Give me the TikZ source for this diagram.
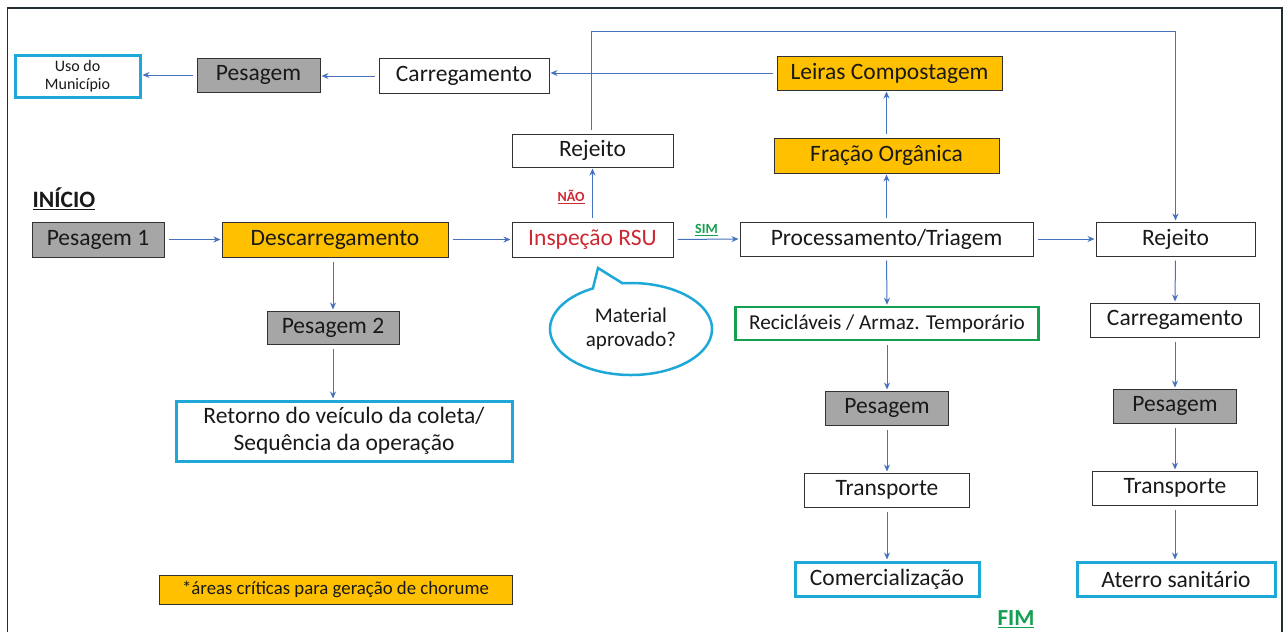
\documentclass[tikz,border=0pt]{standalone}
\usepackage{fontspec}
\setmainfont{Carlito}
\usetikzlibrary{arrows.meta,shapes.callouts}
\definecolor{txt}{RGB}{25,25,25}
\definecolor{bord}{RGB}{50,50,50}
\definecolor{grayfill}{RGB}{166,166,166}
\definecolor{orangefill}{RGB}{255,192,0}
\definecolor{cyanb}{RGB}{30,168,216}
\definecolor{greenb}{RGB}{20,160,80}
\definecolor{redt}{RGB}{205,40,50}
\definecolor{arrowc}{RGB}{70,114,190}
\definecolor{framec}{RGB}{35,45,50}
\tikzset{
  box/.style={draw=bord, line width=1pt, fill=white, inner sep=0pt, text=txt,
    font=\fontsize{23.5}{27}\selectfont, align=center},
  graybox/.style={box, fill=grayfill},
  orangebox/.style={box, fill=orangefill},
  cyanbox/.style={box, draw=cyanb, line width=3pt},
  greenbox/.style={box, draw=greenb, line width=2.5pt},
  arr/.style={draw=arrowc, line width=1pt, -{Stealth[length=7pt,width=6pt]},
    shorten <=4pt, shorten >=1pt},
  plainln/.style={draw=arrowc, line width=1pt, shorten <=4pt},
}
\begin{document}
\begin{tikzpicture}[x=1pt,y=-1pt]
\useasboundingbox (0,0) rectangle (1286,632);
\fill[white] (0,0) rectangle (1286,632);
\draw[framec, line width=1.5pt] (7.5,632) -- (7.5,8) -- (1282,8) -- (1282,632);

% top row
\node[cyanbox, minimum width=125, minimum height=42, font=\fontsize{16}{17.5}\selectfont] (uso) at (77.5,76) {Uso do\\Município};
\node[graybox, minimum width=123, minimum height=34] (pesT) at (258.5,75) {Pesagem};
\node[box, minimum width=170, minimum height=35] (carT) at (464,76) {Carregamento};
\node[orangebox, minimum width=225, minimum height=34] (leiras) at (889.5,73) {Leiras Compostagem};

\node[box, minimum width=161, minimum height=33] (rejU) at (592.5,150.5) {Rejeito};
\node[orangebox, minimum width=225, minimum height=35] (fracao) at (886.5,155.5) {Fração Orgânica};

% main row
\node[font=\bfseries\fontsize{23.5}{27}\selectfont, text=txt] (inicio) at (64,199) {\underline{INÍCIO}};
\node[graybox, minimum width=132, minimum height=35] (pes1) at (98,239.5) {Pesagem 1};
\node[orangebox, minimum width=226, minimum height=35] (desc) at (335,239.5) {Descarregamento};
\node[box, minimum width=161, minimum height=35, text=redt] (insp) at (592.5,239.5) {Inspeção RSU};
\node[box, minimum width=293, minimum height=34] (proc) at (886.5,239) {Processamento/Triagem};
\node[box, minimum width=159, minimum height=34] (rejR) at (1175.5,239) {Rejeito};

% lower left
\node[graybox, minimum width=132, minimum height=33] (pes2) at (333,327.5) {Pesagem 2};
\node[cyanbox, minimum width=336, minimum height=60] (ret) at (344,431) {Retorno do veículo da coleta/\\Sequência da operação};

% callout
\node[ellipse callout, draw=cyanb, line width=2.5pt, fill=white, minimum width=162, minimum height=92,
  inner sep=0pt, align=center, text=txt, font=\fontsize{21}{24}\selectfont,
  callout pointer arc=22,
  callout absolute pointer={(598,268)}] (call) at (631,329) {Material\\aprovado?};

% middle column
\node[greenbox, minimum width=303, minimum height=33, font=\fontsize{21.2}{24}\selectfont] (recic) at (887,323.5) {Recicláveis / Armaz. Temporário};
\node[graybox, minimum width=123, minimum height=34] (pesM) at (887,408) {Pesagem};
\node[box, minimum width=165, minimum height=34] (traM) at (887,490) {Transporte};
\node[cyanbox, minimum width=184, minimum height=34] (com) at (887,579) {Comercialização};

% right column
\node[box, minimum width=169, minimum height=34] (carR) at (1175,320) {Carregamento};
\node[graybox, minimum width=123, minimum height=34] (pesR) at (1175,406) {Pesagem};
\node[box, minimum width=165, minimum height=34] (traR) at (1175,488) {Transporte};
\node[cyanbox, minimum width=198, minimum height=34] (ate) at (1176,579) {Aterro sanitário};

% legend / end
\node[orangebox, minimum width=353, minimum height=29, font=\fontsize{18.8}{21}\selectfont] (crit) at (335.5,589.5) {*áreas críticas para geração de chorume};
\node[font=\bfseries\fontsize{23}{26}\selectfont, text=greenb] (fim) at (1016,619) {\underline{FIM}};

% connectors
\draw[arr] (carT.west) -- (carT.west -| pesT.east);
\draw[arr] (pesT.west) -- (pesT.west -| uso.east);
\draw[arr] (leiras.west) -- (leiras.west -| carT.east);
\draw[arr] (fracao.north) -- (fracao.north |- leiras.south);
\draw[arr] (proc.north) -- (fracao.south);
\coordinate (loopL) at (591,31);
\draw[plainln] (rejU.north -| loopL) -- (loopL) -- (loopL -| rejR.north);
\draw[arr, shorten <=0pt] (loopL -| rejR.north) -- (rejR.north);

\draw[arr] (pes1.east) -- (desc.west);
\draw[arr] (desc.east) -- (insp.west);
\draw[arr] (insp.north) -- node[left=4pt, pos=0.45, font=\bfseries\fontsize{14}{16}\selectfont, text=redt] (nao) {\underline{NÃO}} (rejU.south);
\draw[arr] (insp.east) -- node[above=0pt, font=\bfseries\fontsize{14}{16}\selectfont, text=greenb] (sim) {\underline{SIM}} (proc.west);
\draw[arr] (proc.east) -- (rejR.west);

\draw[arr] (desc.south -| pes2.north) -- (pes2.north);
\draw[arr] (pes2.south) -- (pes2.south |- ret.north);

\draw[arr] (proc.south) -- (recic.north);
\draw[arr] (recic.south) -- (pesM.north);
\draw[arr] (pesM.south) -- (traM.north);
\draw[arr] (traM.south) -- (com.north);

\draw[arr] (rejR.south) -- (carR.north);
\draw[arr] (carR.south) -- (pesR.north);
\draw[arr] (pesR.south) -- (traR.north);
\draw[arr] (traR.south) -- (traR.south |- ate.north);
\end{tikzpicture}
\end{document}
